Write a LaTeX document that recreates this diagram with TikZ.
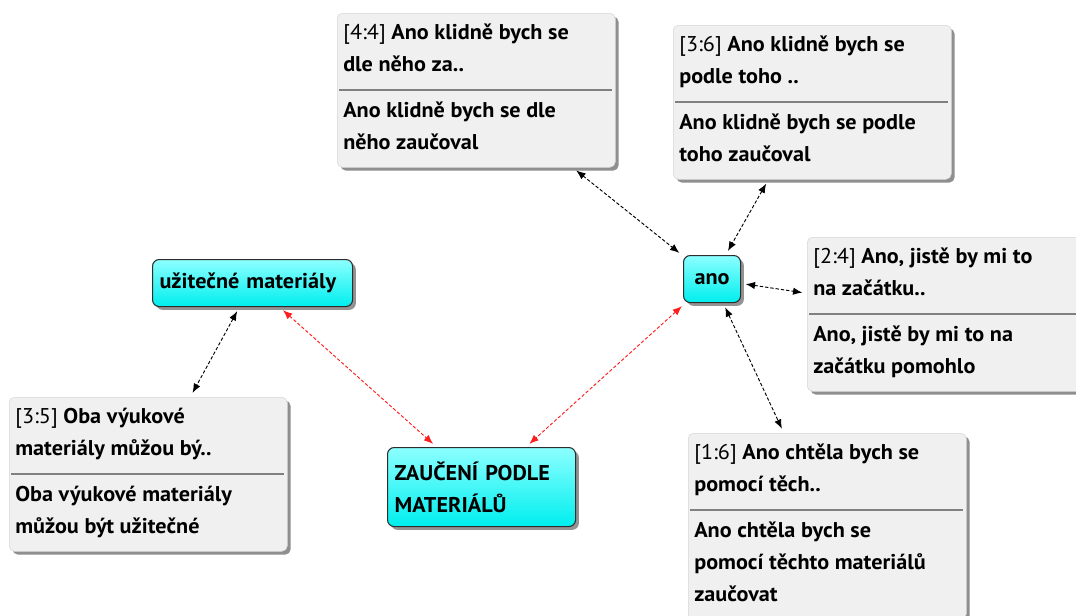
\documentclass[tikz,border=0pt]{standalone}
\usepackage{fontspec}
\setmainfont[FakeStretch=1.04]{PT Sans}
\usetikzlibrary{arrows.meta,shadows}

\tikzset{
  every node/.style={font=\fontsize{16pt}{24pt}\selectfont\bfseries, text=black},
  card/.style={draw={rgb,255:red,214;green,214;blue,214}, fill={rgb,255:red,240;green,240;blue,240},
    rounded corners=4pt, anchor=north west, inner sep=0pt, minimum width=208.5pt,
    drop shadow={shadow xshift=2.5pt, shadow yshift=-2.5pt, fill=black!55, opacity=0.8}},
  cardtext/.style={anchor=base west, inner sep=0pt, align=left},
  sepline/.style={draw={rgb,255:red,128;green,128;blue,128}, line width=1.5pt},
  code/.style={draw={rgb,255:red,45;green,45;blue,45}, line width=0.8pt, rounded corners=5pt,
    top color={rgb,255:red,140;green,255;blue,255}, bottom color={rgb,255:red,0;green,238;blue,238},
    anchor=north west, inner ysep=0pt, inner xsep=5.25pt, align=left,
    drop shadow={shadow xshift=2.5pt, shadow yshift=-2.5pt, fill=black!60, opacity=0.7}},
  link/.style={line width=0.7pt, dash pattern=on 2.5pt off 1.5pt,
    {Latex[length=7pt,width=5.5pt]}-{Latex[length=7pt,width=5.5pt]},
    shorten >=3.5pt, shorten <=3.5pt},
  blacklink/.style={link, draw=black},
  redlink/.style={link, draw={rgb,255:red,255;green,30;blue,30}},
}

% a quotation card: name, left, top, lines of full text, id, header (two lines), full text
% (multi-line nodes sit on the baseline of their last line)
\newcommand\quotecard[7]{%
  \node[card, minimum height={(154+32*(#4-2))*0.75pt}] (#1) at (#2,#3) {};
  \node[cardtext] (#1-head) at (#2+6,#3+58) {{\mdseries #5} #6};
  \draw[sepline] (#2+2,#3+77) -- (#2+275,#3+77);
  \node[cardtext] (#1-body) at (#2+6,{#3+104+32*(#4-1)}) {#7};
}

\begin{document}
\begin{tikzpicture}[x=0.75pt, y=-0.75pt]
  \fill[white] (0,0) rectangle (1076,615);
  \useasboundingbox (0,0) rectangle (1076,615);
  \clip (0,0) rectangle (1076,615);

  % quotations
  \quotecard{q44}{337}{13}{2}{[4:4]}{Ano klidně bych se\\dle něho za..}{Ano klidně bych se dle\\něho zaučoval}
  \quotecard{q36}{673}{25}{2}{[3:6]}{Ano klidně bych se\\podle toho ..}{Ano klidně bych se podle\\toho zaučoval}
  \quotecard{q24}{807}{237}{2}{[2:4]}{Ano, jistě by mi to\\na začátku..}{Ano, jistě by mi to na\\začátku pomohlo}
  \quotecard{q35}{9}{397}{2}{[3:5]}{Oba výukové\\materiály můžou bý..}{Oba výukové materiály\\můžou být užitečné}
  \quotecard{q16}{688}{433}{3}{[1:6]}{Ano chtěla bych se\\pomocí těch..}{Ano chtěla bych se\\pomocí těchto materiálů\\zaučovat}

  % codes
  \node[code, text width=139.5pt, minimum height=35.25pt] (useful) at (152,259) {užitečné materiály};
  \node[code, text width=130.5pt, minimum height=59.25pt] (main) at (387,447) {ZAUČENÍ PODLE\\MATERIÁLŮ};
  \node[code, align=center, minimum width=42.75pt, minimum height=35.25pt, inner xsep=0pt] (ano) at (683,255) {ano};

  % links
  \draw[blacklink] (q44) -- (ano);
  \draw[blacklink] (q36) -- (ano);
  \draw[blacklink] (ano) -- (q24);
  \draw[blacklink] (ano) -- (q16);
  \draw[blacklink] (useful) -- (q35);
  \draw[redlink] (useful) -- (main);
  \draw[redlink] (ano) -- (main);
\end{tikzpicture}
\end{document}
